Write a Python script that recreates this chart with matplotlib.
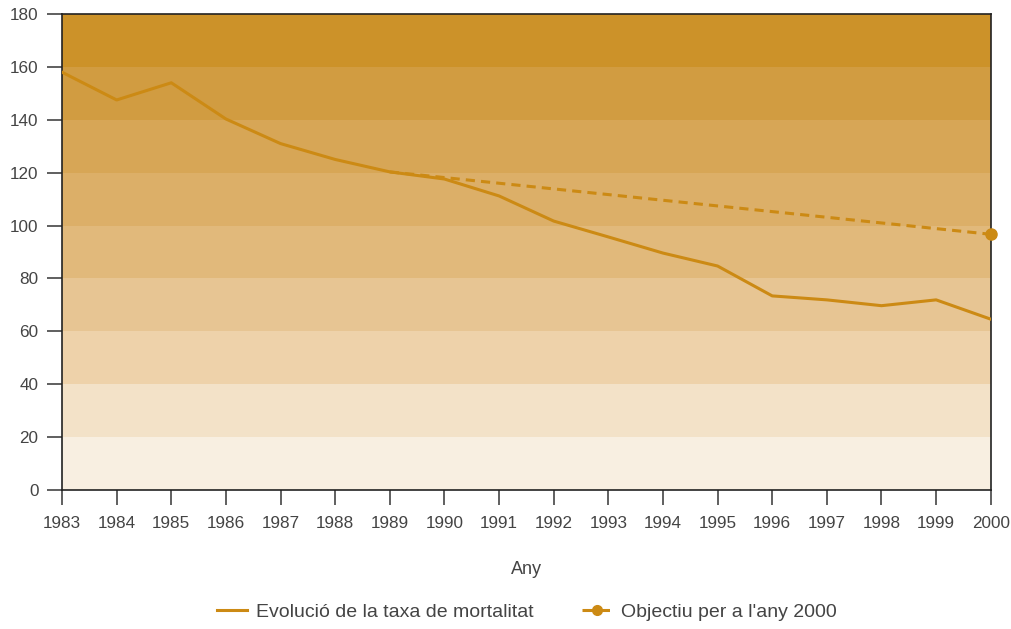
import matplotlib.pyplot as plt
import numpy as np

years = [1983, 1984, 1985, 1986, 1987, 1988, 1989, 1990, 1991, 1992,
         1993, 1994, 1995, 1996, 1997, 1998, 1999, 2000]
taxa = [158, 147.5, 154, 140.3, 131, 125, 120.3, 117.6, 111.2, 101.7,
        95.7, 89.6, 84.7, 73.4, 71.9, 69.7, 71.9, 64.6]
obj_years = [1989, 2000]
obj_vals = [120.3, 96.7]

band_edges = [0, 20, 40, 60, 80, 100, 120, 140, 160, 180]
band_colors = ['#F8EFE1', '#F3E2C8', '#EED2AA', '#E7C593', '#E1B97B',
               '#DCAF68', '#D7A656', '#D19C41', '#CC9229']

plt.rcParams['font.family'] = ['Liberation Sans', 'DejaVu Sans']
line_col = '#CC8A14'
txt_col = '#444444'

fig = plt.figure(figsize=(10.12, 6.29), dpi=100)
ax = fig.add_axes([0.0613, 0.221, 0.9177, 0.7567])

for i in range(len(band_colors)):
    ax.axhspan(band_edges[i], band_edges[i + 1], color=band_colors[i], lw=0, zorder=0)

ax.plot(years, taxa, color=line_col, lw=2.2, label='Evolució de la taxa de mortalitat', zorder=3)
ax.plot(obj_years, obj_vals, color=line_col, lw=2.2, ls=(0, (3, 2)), zorder=3)
ax.plot(obj_years[-1:], obj_vals[-1:], 'o', color=line_col, ms=8, zorder=4, clip_on=False)
ax.plot([], [], color=line_col, lw=2.2, marker='o', ms=7, ls='--', label="Objectiu per a l'any 2000")

ax.set_xlim(1983, 2000)
ax.set_ylim(0, 180)
ax.set_xticks(years)
ax.set_yticks(range(0, 181, 20))
ax.tick_params(colors='#444444', labelcolor=txt_col, labelsize=12.3, length=10.5, width=1.2, direction='out')
ax.tick_params(axis='x', pad=8.5)
ax.tick_params(axis='y', pad=6.5)
for s in ax.spines.values():
    s.set_color('#222222')
    s.set_linewidth(1.2)

ax.set_xlabel('Any', fontsize=13, color=txt_col, labelpad=21)
leg = fig.legend(loc='center', bbox_to_anchor=(0.521, 0.027), ncol=2, frameon=False,
                 fontsize=14, handlelength=1.5, handletextpad=0.5, columnspacing=2.5)
for t in leg.get_texts():
    t.set_color(txt_col)

fig.savefig('out.png', dpi=100)
